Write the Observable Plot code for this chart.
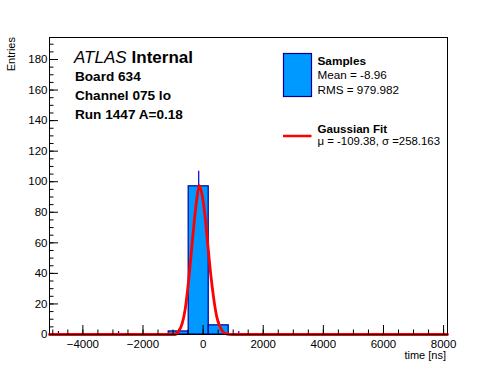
<!DOCTYPE html>
<html><head><meta charset="utf-8">
<script src="https://cdn.jsdelivr.net/npm/d3@7"></script>
<script src="https://cdn.jsdelivr.net/npm/@observablehq/plot@0.6"></script>
<style>body{margin:0;background:#fff} svg{display:block}</style>
</head><body><div id="chart"></div>
<script>
// Histogram bins (time [ns]) and entries
const binLo = [-5145, -3146, -1146, -480, 187, 853];
const binHi = [-4479, -2479, -480, 187, 853, 1520];
const counts = [1, 1, 2, 97, 6, 1];
// Gaussian fit curve
const fitX = [-5110, -950, -800, -700, -600, -500, -400, -300, -200, -130, -50, 50, 150, 250, 350, 450, 550, 650, 800, 950, 8130];
const fitY = [0, 0, 2.5, 7, 16, 32, 52, 73, 90, 97.5, 93, 80, 60, 40, 24, 12, 5.5, 2, 0.3, 0, 0];
// Axis ticks
const xMajor = [-4000, -2000, 0, 2000, 4000, 6000, 8000];
const xMinor = d3.range(-5000, 8001, 500);
const yMajor = [0, 20, 40, 60, 80, 100, 120, 140, 160, 180];
const yMinor = d3.range(0, 191, 5);
// Texts
const headText = ["Board 634", "Channel 075 lo", "Run 1447 A=0.18"];
const legendTitles = ["Samples", "Gaussian Fit"];
const legendStats = ["Mean = -8.96", "RMS = 979.982", "\u03bc = -109.38, \u03c3 =258.163"];

const W = 496, H = 372, mL = 49, mR = 49, mT = 37, mB = 38;
const fw = W - mL - mR, fh = H - mT - mB;
const font = "'Liberation Sans', Arial, Helvetica, sans-serif";

const bins = counts.map((c, i) => ({x1: binLo[i], x2: binHi[i], c}));
const fit = fitX.map((x, i) => ({x, y: fitY[i]}));

const svg = Plot.plot({
  width: W, height: H,
  marginLeft: mL, marginRight: mR, marginTop: mT, marginBottom: mB,
  style: {fontFamily: font, fontSize: "11.5px", background: "white", color: "black"},
  x: {domain: [-5110, 8130], ticks: xMajor, tickSize: 0, tickPadding: 5, label: null,
      tickFormat: d => (d < 0 ? "\u2212" : "") + Math.abs(d)},
  y: {domain: [0, 194.4], ticks: yMajor, tickSize: 0, tickPadding: 2, label: null},
  marks: [
    Plot.ruleX(bins, {x: d => (d.x1 + d.x2) / 2, y1: d => d.c - Math.sqrt(d.c), y2: d => d.c + Math.sqrt(d.c), stroke: "#0000cc", strokeWidth: 1.2}),
    Plot.rectY(bins, {filter: d => d.c > 1, x1: "x1", x2: "x2", y: "c", fill: "#0099ff", stroke: "#000099", strokeWidth: 1.2}),
    Plot.line(fit, {x: "x", y: "y", stroke: "#ff0000", strokeWidth: 2.8, curve: "monotone-x"}),
    Plot.tickX(xMinor, {x: d => d, insetTop: fh - 4.5, stroke: "black"}),
    Plot.tickX(xMajor, {x: d => d, insetTop: fh - 9, stroke: "black"}),
    Plot.tickY(yMinor, {y: d => d, insetRight: fw - 4.5, stroke: "black"}),
    Plot.tickY(yMajor, {y: d => d, insetRight: fw - 9, stroke: "black"}),
    Plot.frame({stroke: "black", strokeWidth: 1})
  ]
});
document.getElementById("chart").appendChild(svg);

const s = d3.select(svg);
const g = s.append("g").attr("font-family", font).attr("fill", "black").attr("text-anchor", "start");
// axis titles
g.append("text").attr("x", W - mR - 1).attr("y", 359).attr("text-anchor", "end").attr("font-size", 11).text("time [ns]");
g.append("text").attr("transform", `translate(15,${mT}) rotate(-90)`).attr("text-anchor", "end").attr("font-size", 11).text("Entries");
// ATLAS label
const t = g.append("text").attr("x", 74).attr("y", 62.8).attr("font-size", 17);
t.append("tspan").attr("font-style", "italic").text("ATLAS");
t.append("tspan").attr("font-weight", "bold").attr("dx", 5).text("Internal");
headText.forEach((txt, i) => {
  g.append("text").attr("x", 75).attr("y", 80.5 + i * 19.2).attr("font-size", 13.6).attr("font-weight", "bold").text(txt);
});
// legend
g.append("rect").attr("x", 283.5).attr("y", 53.5).attr("width", 28).attr("height", 43)
  .attr("fill", "#0099ff").attr("stroke", "#000099").attr("stroke-width", 1.2);
g.append("line").attr("x1", 283).attr("x2", 311.5).attr("y1", 136).attr("y2", 136)
  .attr("stroke", "#ff0000").attr("stroke-width", 2.5);
g.append("text").attr("x", 317.5).attr("y", 65).attr("font-size", 11.8).attr("font-weight", "bold").text(legendTitles[0]);
g.append("text").attr("x", 317.5).attr("y", 79.2).attr("font-size", 11.7).text(legendStats[0]);
g.append("text").attr("x", 317.5).attr("y", 93.5).attr("font-size", 11.7).text(legendStats[1]);
g.append("text").attr("x", 317.5).attr("y", 132.6).attr("font-size", 11.6).attr("font-weight", "bold").text(legendTitles[1]);
g.append("text").attr("x", 317.5).attr("y", 145).attr("font-size", 11.4).text(legendStats[2]);
</script></body></html>
